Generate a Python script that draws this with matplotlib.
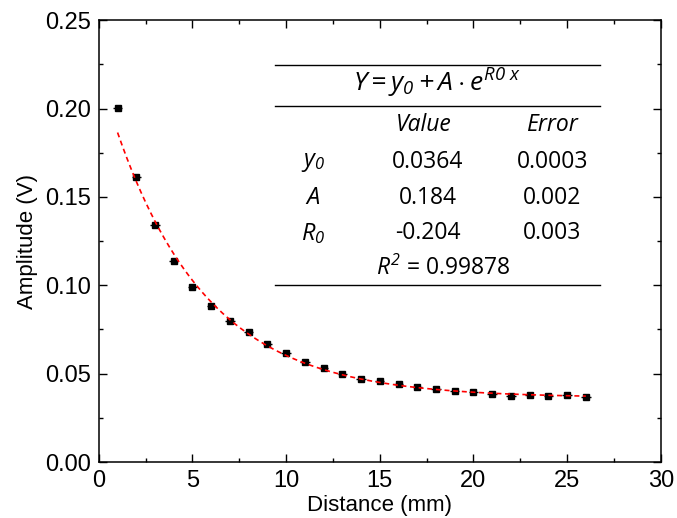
import numpy as np
import matplotlib.pyplot as plt
from matplotlib.ticker import MultipleLocator

plt.rcParams['font.family'] = ['Liberation Sans', 'DejaVu Sans']
plt.rcParams['mathtext.fontset'] = 'custom'
plt.rcParams['mathtext.it'] = 'Open Sans:italic'
plt.rcParams['mathtext.rm'] = 'Open Sans:italic'

# measured points
distance = [1, 2, 3, 4, 5, 6, 7, 8, 9, 10, 11, 12, 13,
            14, 15, 16, 17, 18, 19, 20, 21, 22, 23, 24, 25, 26]
amplitude = [0.2004, 0.1614, 0.1344, 0.1135, 0.0992, 0.0882, 0.0796,
             0.0736, 0.0667, 0.0618, 0.0566, 0.0534, 0.0500, 0.0468,
             0.0460, 0.0443, 0.0422, 0.0415, 0.0402, 0.0394, 0.0386,
             0.0373, 0.0381, 0.0373, 0.0377, 0.0368]
dist_err = [0.25] * len(distance)

# fit parameters (from the table)
y0, A, R0 = 0.0364, 0.184, -0.204
y0_err, A_err, R0_err = 0.0003, 0.002, 0.003
r2 = 0.99878

fig = plt.figure(figsize=(6.77, 5.18), dpi=100)
ax = fig.add_axes([0.146, 0.108, 0.830, 0.853])

xf = np.linspace(min(distance), max(distance), 300)
ax.plot(xf, y0 + A*np.exp(R0*xf), color='#ff0000', lw=1.2,
        linestyle=(0, (3, 2.2)), zorder=3)
ax.errorbar(distance, amplitude, xerr=dist_err, fmt='s', color='black',
            ms=5, elinewidth=1, capsize=0, zorder=2)

ax.set_xlim(0, 30)
ax.set_ylim(0, 0.25)
ax.xaxis.set_major_locator(MultipleLocator(5))
ax.xaxis.set_minor_locator(MultipleLocator(2.5))
ax.yaxis.set_major_locator(MultipleLocator(0.05))
ax.yaxis.set_minor_locator(MultipleLocator(0.025))
ax.yaxis.set_major_formatter(plt.FormatStrFormatter('%.2f'))
ax.tick_params(which='both', direction='in', top=True, right=True,
               labelsize=17, width=1)
ax.tick_params(which='major', length=6, pad=6)
ax.tick_params(which='minor', length=3)
for s in ax.spines.values():
    s.set_linewidth(1.1)
ax.set_xlabel('Distance (mm)', fontsize=16, labelpad=2)
ax.set_ylabel('Amplitude (V)', fontsize=16, labelpad=5)

# fit result table
tf = dict(family='Open Sans', fontsize=16.5, transform=ax.transAxes,
          ha='center', va='center')
for yl in [0.898, 0.806, 0.400]:
    ax.plot([0.313, 0.891], [yl, yl], color='black', lw=1,
            transform=ax.transAxes)
ax.text(0.602, 0.857, r'$Y = y_0 + A \cdot e^{R0\ x}$',
        fontsize=19, transform=ax.transAxes, ha='center', va='center')
ax.text(0.578, 0.762, 'Value', style='italic', **tf)
ax.text(0.807, 0.762, 'Error', style='italic', **tf)
rows = [(r'$y_0$', y0, y0_err), (r'$A$', A, A_err),
        (r'$R_0$', R0, R0_err)]
for i, (name, val, err) in enumerate(rows):
    yy = [0.679, 0.597, 0.518][i]
    ax.text(0.381, yy, name, fontsize=17, transform=ax.transAxes,
            ha='center', va='center')
    ax.text(0.585, yy, f'{val:g}', **tf)
    ax.text(0.807, yy, f'{err:g}', **tf)
ax.text(0.612, 0.439, r'$R^{2}$' + f' = {r2}', **tf)

fig.savefig('out.png', dpi=100)
